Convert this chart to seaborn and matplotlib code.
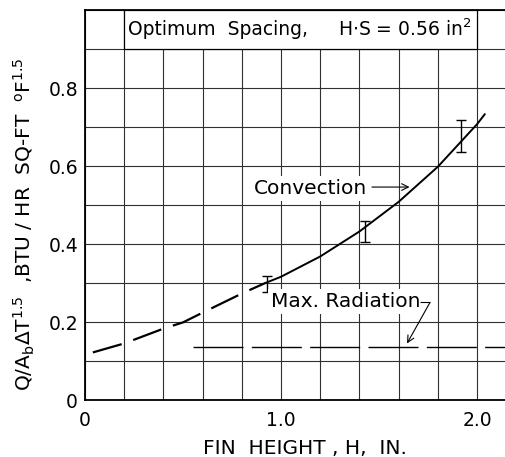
import matplotlib
matplotlib.use('Agg')
import matplotlib.pyplot as plt
import seaborn as sns
import pandas as pd
import numpy as np
from matplotlib.patches import Rectangle

# ---- data ----
conv_dash_h = [0.04, 0.2, 0.4, 0.5, 0.6, 0.8, 0.92]
conv_dash_q = [0.122, 0.145, 0.183, 0.199, 0.224, 0.273, 0.300]
conv_solid_h = [0.92, 1.0, 1.2, 1.4, 1.6, 1.8, 2.0, 2.04]
conv_solid_q = [0.300, 0.316, 0.368, 0.432, 0.508, 0.598, 0.707, 0.733]
rad_h = [0.55, 2.2]
rad_q = [0.137, 0.137]
err_h = [0.93, 1.43, 1.92]
err_q = [0.298, 0.432, 0.677]
err_e = [0.020, 0.027, 0.041]
xtick_vals = [0.0, 0.2, 0.4, 0.6, 0.8, 1.0, 1.2, 1.4, 1.6, 1.8, 2.0]
xtick_labels = ['0', '', '', '', '', '1.0', '', '', '', '', '2.0']
ytick_vals = [0.0, 0.1, 0.2, 0.3, 0.4, 0.5, 0.6, 0.7, 0.8, 0.9, 1.0]
ytick_labels = ['0', '', '0.2', '', '0.4', '', '0.6', '', '0.8', '', '']

sns.set_theme(style='white')
plt.rcParams['font.family'] = ['DejaVu Sans']

fig = plt.figure(figsize=(5.06, 4.57), dpi=100)
ax = fig.add_axes([85/506, 57/457, 421/506, 390/457])

df_dash = pd.DataFrame({'H': conv_dash_h, 'Q': conv_dash_q})
df_solid = pd.DataFrame({'H': conv_solid_h, 'Q': conv_solid_q})
df_rad = pd.DataFrame({'H': rad_h, 'Q': rad_q})

sns.lineplot(data=df_dash, x='H', y='Q', ax=ax, color='black', lw=1.6,
             linestyle=(0, (13.5, 5.5)), sort=True, zorder=3)
sns.lineplot(data=df_solid, x='H', y='Q', ax=ax, color='black', lw=1.4,
             sort=True, zorder=3)
sns.lineplot(data=df_rad, x='H', y='Q', ax=ax, color='black', lw=1.0,
             linestyle=(0, (36, 6)), zorder=3)
ax.errorbar(err_h, err_q, yerr=err_e, fmt='none', ecolor='black',
            elinewidth=1.0, capsize=3.5, capthick=1.0, zorder=4)

ax.set_xlim(0, 421/196)
ax.set_ylim(0, 1.0)
ax.set_xticks(xtick_vals)
ax.set_xticklabels(xtick_labels)
ax.set_yticks(ytick_vals)
ax.set_yticklabels(ytick_labels)
ax.tick_params(axis='x', length=0, pad=8, labelsize=13.5, colors='black')
ax.tick_params(axis='y', length=0, pad=5, labelsize=13.5, colors='black')
ax.grid(True, color='#303030', lw=0.8)
ax.set_axisbelow(True)

for s in ['left', 'bottom', 'top']:
    ax.spines[s].set_visible(True)
    ax.spines[s].set_color('black')
    ax.spines[s].set_linewidth(1.3)
ax.spines['right'].set_visible(False)

ax.set_xlabel('FIN  HEIGHT , H,  IN.', fontsize=14.5, color='black')
ax.xaxis.set_label_coords((305-85)/421, -0.10)
ax.set_ylabel(r'Q/A$_\mathregular{b}$$\Delta$T$^{\mathregular{1.5}}$  ,BTU / HR  SQ-FT  $^\mathregular{o}$F$^{\mathregular{1.5}}$',
              fontsize=14.5, color='black')
ax.yaxis.set_label_coords(-(85-37)/421, (400-224)/390)

# title box
ax.add_patch(Rectangle((0.2, 0.9), 1.8, 0.1, facecolor='white',
                       edgecolor='black', lw=0.9, zorder=2))
ax.text(0.22, 0.95, 'Optimum  Spacing,',
        fontsize=13.5, va='center', ha='left', color='black', zorder=5)
ax.text((338-85)/196, 0.95, r'H$\cdot$S = 0.56 in$^{2}$',
        fontsize=13.5, va='center', ha='left', color='black', zorder=5)

# annotations
ax.text(0.86, 0.543, 'Convection', fontsize=14.5, va='center', ha='left',
        color='black', zorder=5,
        bbox=dict(facecolor='white', edgecolor='none', pad=2))
ax.annotate('', xy=(1.67, 0.546), xytext=(1.45, 0.546),
            arrowprops=dict(arrowstyle='->', lw=0.8, color='black'), zorder=5)

ax.text(0.95, 0.252, 'Max. Radiation', fontsize=14.5, va='center', ha='left',
        color='black', zorder=5,
        bbox=dict(facecolor='white', edgecolor='none', pad=2))
ax.annotate('', xy=(1.76, 0.25), xytext=(1.714, 0.25),
            arrowprops=dict(arrowstyle='-', lw=0.8, color='black',
                            shrinkA=0, shrinkB=0), zorder=5)
ax.annotate('', xy=(1.643, 0.145), xytext=(1.76, 0.25),
            arrowprops=dict(arrowstyle='->', lw=0.8, color='black',
                            shrinkA=0, shrinkB=0), zorder=5)

fig.savefig('out.png', dpi=100, facecolor='white')
